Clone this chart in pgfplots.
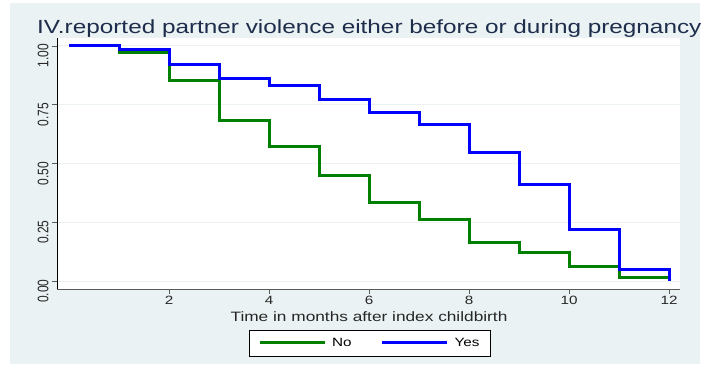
\documentclass[border=0pt]{standalone}
\usepackage{graphicx}
\usepackage{pgfplots}
\pgfplotsset{compat=1.18}
\usepackage{fontspec}
\setmainfont{Liberation Sans}
\definecolor{bgc}{RGB}{234,242,243}
\definecolor{gridc}{RGB}{236,242,242}
\definecolor{titc}{RGB}{30,45,75}
\definecolor{kmgreen}{RGB}{0,128,0}
\definecolor{kmblue}{RGB}{0,0,255}
\newcommand{\hs}[1]{\scalebox{1.27}[1]{#1}}
\begin{document}
\begin{tikzpicture}[x=1bp,y=1bp]
\useasboundingbox (0,0) rectangle (721,364);
\fill[white] (0,0) rectangle (721,364);
\clip (10,0) rectangle (700,364);
\fill[bgc] (10,0) rectangle (700,361);
\node[anchor=base west, text=titc, font=\fontsize{19bp}{22bp}\selectfont, inner sep=0pt] at (37,331) {\scalebox{1.28}[1]{IV.reported partner violence either before or during pregnancy}};
\begin{axis}[
  at={(57bp,75bp)}, anchor=south west,
  scale only axis, width=623bp, height=251bp,
  xmin=-0.24, xmax=12.22, ymin=-0.034, ymax=1.034,
  axis background/.style={fill=white},
  axis x line*=bottom, axis y line*=left,
  x axis line style={draw=black!65, line width=0.8bp},
  y axis line style={draw=black, line width=0.8bp},
  xtick={2,4,6,8,10,12},
  ytick={0,0.25,0.5,0.75,1},
  tick align=outside, major tick length=5bp,
  every tick/.style={black!65, line width=0.6bp},
  ymajorgrids, grid style={gridc, line width=1bp},
  /pgf/number format/assume math mode=true,
  yticklabel={\scalebox{1}[1.27]{\pgfmathprintnumber[fixed,fixed zerofill,precision=2]{\tick}}},
  yticklabel style={rotate=90, font=\fontsize{12bp}{14bp}\selectfont, text=black!85, xshift=-10bp},
  xticklabel={\hs{\pgfmathprintnumber{\tick}}},
  xticklabel style={font=\fontsize{12bp}{14bp}\selectfont, text=black!85, yshift=1bp},
  legend style={at={(0.502,-0.215)}, anchor=center, draw=black, line width=0.6bp, fill=white, font=\fontsize{12bp}{14bp}\selectfont, inner xsep=9bp, inner ysep=6bp, /tikz/every even column/.append style={column sep=27bp}, /tikz/every odd column/.append style={column sep=4bp}},
  legend columns=2,
  legend image code/.code={\draw[#1] (0bp,0bp) -- (65bp,0bp);},
]
\addplot[const plot, kmgreen, line width=3bp] coordinates {
(0,1) (1,0.971) (2,0.855) (3,0.685) (4,0.571) (5,0.448) (6,0.335) (7,0.26) (8,0.165) (9,0.123) (10,0.061) (11,0.013) (12,0.013)};
\addlegendentry{\hs{No}}
\addplot[const plot, kmblue, line width=3bp] coordinates {
(0,1) (1,0.986) (2,0.922) (3,0.862) (4,0.83) (5,0.774) (6,0.715) (7,0.664) (8,0.548) (9,0.411) (10,0.221) (11,0.047) (12,0.0)};
\addlegendentry{\hs{Yes}}
\end{axis}
\node[font=\fontsize{13.6bp}{16bp}\selectfont, text=black!85] at (369,47) {\hs{Time in months after index childbirth}};
\end{tikzpicture}
\end{document}
